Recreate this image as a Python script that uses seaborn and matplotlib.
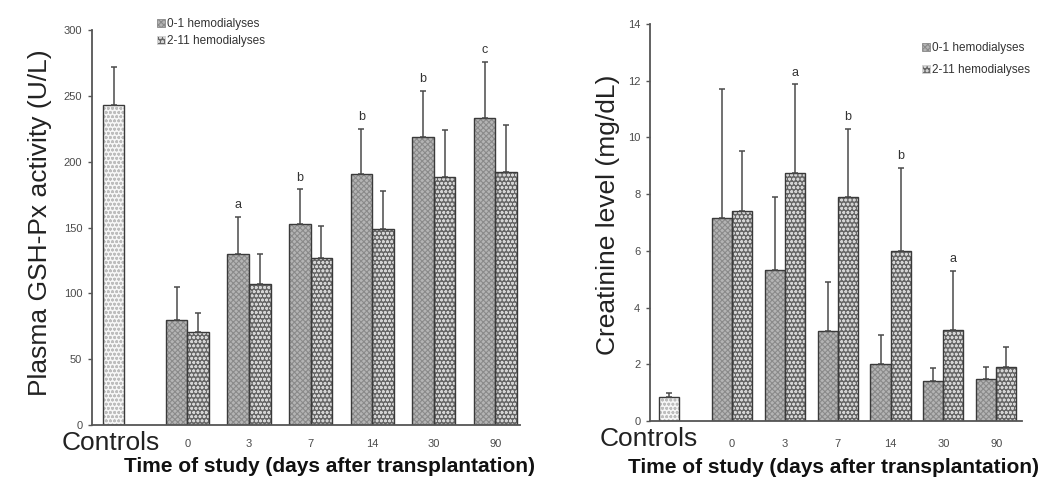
import numpy as np
import pandas as pd
import matplotlib
matplotlib.use("Agg")
import matplotlib.pyplot as plt
from matplotlib.patches import Patch
import seaborn as sns

# ---- data -------------------------------------------------------------
days = ["0", "3", "7", "14", "30", "90"]
series = ["0-1 hemodialyses", "2-11 hemodialyses"]

gsh_controls_mean = 243
gsh_controls_sd = 29
gsh_mean_01 = [80, 130, 153, 191, 219, 233]
gsh_sd_01 = [25, 28, 26, 34, 35, 43]
gsh_mean_211 = [71, 107, 127, 149, 188, 192]
gsh_sd_211 = [14, 23, 24, 29, 36, 36]
gsh_letters = ["", "a", "b", "b", "b", "c"]      # marks over the 0-1 bars

cr_controls_mean = 0.86
cr_controls_sd = 0.12
cr_mean_01 = [7.15, 5.32, 3.18, 2.0, 1.41, 1.47]
cr_sd_01 = [4.55, 2.59, 1.73, 1.03, 0.45, 0.44]
cr_mean_211 = [7.42, 8.76, 7.89, 5.99, 3.21, 1.91]
cr_sd_211 = [2.11, 3.12, 2.41, 2.94, 2.09, 0.71]
cr_letters = ["", "a", "b", "b", "a", ""]        # marks over the 2-11 bars

# ---- style ------------------------------------------------------------
sns.set_style("ticks")
plt.rcParams["font.family"] = ["Liberation Sans", "DejaVu Sans"]
plt.rcParams["hatch.linewidth"] = 0.8

EDGE = "#3a3a3a"
TICK_GREY = "#4a4a4a"
styles = {
    "ctrl": dict(face="#f6f6f6", hatch="oooo", hcolor="#bdbdbd"),
    series[0]: dict(face="#b4b4b4", hatch="xxxxxx", hcolor="#8a8a8a"),
    series[1]: dict(face="#666666", hatch="oooo", hcolor="#d4d4d4"),
}

fig = plt.figure(figsize=(10.45, 4.8), dpi=100)
ax_l = fig.add_axes([92 / 1045, 55 / 480, 428 / 1045, 395 / 480])
ax_r = fig.add_axes([650 / 1045, 59 / 480, 372 / 1045, 397 / 480])

GAP = 1.2  # distance from the controls bar to the first group


def draw_panel(ax, c_mean, c_sd, m01, s01, m211, s211, letters, letter_series,
               bar_w, ymax, ystep, xlim, ylabel, ylab_xy, xlab_xy,
               ctrl_x, xpad, legend_anchor, legend_gap):
    xg = GAP + np.arange(len(days))
    df = pd.DataFrame({
        "x": np.concatenate([xg, xg]),
        "value": list(m01) + list(m211),
        "sd": list(s01) + list(s211),
        "series": [series[0]] * len(days) + [series[1]] * len(days),
    })
    ctrl = pd.DataFrame({"x": [0.0], "value": [c_mean], "sd": [c_sd]})

    # filled, hatched bars
    sns.barplot(data=ctrl, x="x", y="value", native_scale=True, width=bar_w,
                errorbar=None, color=styles["ctrl"]["face"], saturation=1,
                linewidth=0, ax=ax)
    sns.barplot(data=df, x="x", y="value", hue="series", hue_order=series,
                native_scale=True, width=2 * bar_w, errorbar=None,
                palette=[styles[s]["face"] for s in series], saturation=1,
                linewidth=0, legend=False, ax=ax)
    keys = ["ctrl"] + series
    for cont, key in zip(ax.containers[:3], keys):
        for p in cont:
            p.set_hatch(styles[key]["hatch"])
            p.set_edgecolor(styles[key]["hcolor"])
            p.set_linewidth(0)

    # bar outlines
    sns.barplot(data=ctrl, x="x", y="value", native_scale=True, width=bar_w,
                errorbar=None, fill=False, color=EDGE, linewidth=1.0, ax=ax)
    sns.barplot(data=df, x="x", y="value", hue="series", hue_order=series,
                native_scale=True, width=2 * bar_w, errorbar=None, fill=False,
                palette=[EDGE, EDGE], linewidth=1.0, legend=False, ax=ax)

    # upper error bars
    groups = [(ax.containers[0], ctrl)] + [
        (ax.containers[1 + i], df[df["series"] == s].reset_index(drop=True))
        for i, s in enumerate(series)]
    centers = {}
    for (cont, sub), key in zip(groups, keys):
        cx = [p.get_x() + p.get_width() / 2 for p in cont]
        centers[key] = cx
        ax.errorbar(cx, sub["value"], yerr=[np.zeros(len(sub)), sub["sd"]],
                    fmt="none", ecolor="#4a4a4a", elinewidth=1.1, capsize=2.2,
                    capthick=1.1, zorder=1)

    # significance letters
    sub = df[df["series"] == letter_series].reset_index(drop=True)
    for cx, v, sd, lt in zip(centers[letter_series], sub["value"], sub["sd"], letters):
        if lt:
            ax.annotate(lt, (cx, v + sd), xytext=(0, 4), textcoords="offset points",
                        ha="center", va="bottom", fontsize=9, color="#333333")

    # axes
    ax.set_xlim(*xlim)
    ax.set_ylim(0, ymax)
    ax.set_yticks(np.arange(0, ymax + ystep / 2, ystep))
    ax.set_xticks(xg)
    ax.set_xticklabels(days)
    ax.tick_params(axis="x", length=0, pad=xpad, labelsize=8, labelcolor=TICK_GREY)
    ax.tick_params(axis="y", length=3, width=1, pad=4, labelsize=8,
                   labelcolor=TICK_GREY, color="#555555")
    sns.despine(ax=ax)
    for side in ("left", "bottom"):
        ax.spines[side].set_color("#555555")
        ax.spines[side].set_linewidth(1.3)
    ax.set_xlabel("")
    ax.set_ylabel("")

    ax.text(ylab_xy[0], ylab_xy[1], ylabel, transform=ax.transAxes, rotation=90,
            ha="center", va="center", fontsize=19, color="#222222")
    ax.text(xlab_xy[0], xlab_xy[1], "Time of study (days after transplantation)",
            transform=ax.transAxes, ha="center", va="center", fontsize=15,
            fontweight="bold", color="#111111", clip_on=False)
    ax.text(ctrl_x, -0.045, "Controls", transform=ax.get_xaxis_transform(),
            ha="center", va="center", fontsize=19, color="#222222")

    handles = [Patch(facecolor=styles[s]["face"], edgecolor=styles[s]["hcolor"],
                     hatch=styles[s]["hatch"], linewidth=0.6) for s in series]
    leg = ax.legend(handles, series, loc="upper left", bbox_to_anchor=legend_anchor,
                    frameon=False, fontsize=8.5, handlelength=0.7, handleheight=0.7,
                    handletextpad=0.15, labelspacing=legend_gap, borderpad=0,
                    borderaxespad=0)
    for t in leg.get_texts():
        t.set_color("#333333")


draw_panel(ax_l, gsh_controls_mean, gsh_controls_sd, gsh_mean_01, gsh_sd_01,
           gsh_mean_211, gsh_sd_211, gsh_letters, series[0],
           bar_w=0.35, ymax=300, ystep=50, xlim=(-0.35, 6.6),
           ylabel="Plasma GSH-Px activity (U/L)", ylab_xy=(-0.121, 0.513),
           xlab_xy=(0.556, -0.106), ctrl_x=-0.04, xpad=10,
           legend_anchor=(0.152, 1.03), legend_gap=0.45)

draw_panel(ax_r, cr_controls_mean, cr_controls_sd, cr_mean_01, cr_sd_01,
           cr_mean_211, cr_sd_211, cr_letters, series[1],
           bar_w=0.38, ymax=14, ystep=2, xlim=(-0.356, 6.69),
           ylabel="Creatinine level (mg/dL)", ylab_xy=(-0.113, 0.519),
           xlab_xy=(0.492, -0.116), ctrl_x=-0.38, xpad=13,
           legend_anchor=(0.73, 0.955), legend_gap=0.85)

fig.savefig("out.png", dpi=100, facecolor="white")
